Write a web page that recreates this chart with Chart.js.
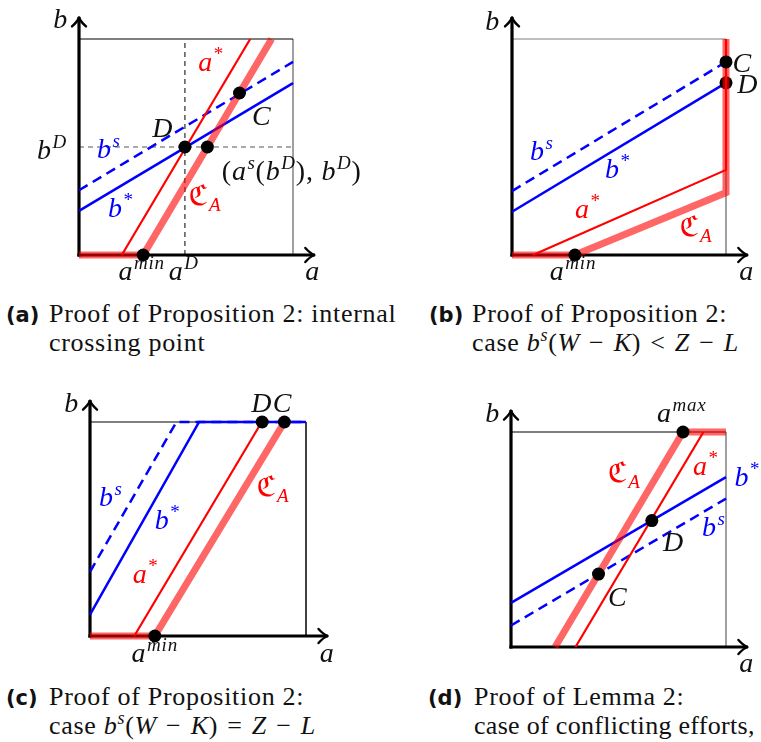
<!DOCTYPE html>
<html>
<head>
<meta charset="utf-8">
<script src="https://cdn.jsdelivr.net/npm/chart.js@4/dist/chart.umd.min.js"></script>
<style>
  html, body { margin:0; padding:0; background:#fff; }
  #wrap { position:relative; width:761px; height:742px; overflow:hidden; }
  canvas { position:absolute; }
  .cap { position:absolute; font-family:"Liberation Serif", serif; font-size:26px; line-height:27px; letter-spacing:0.7px; color:#111; white-space:nowrap; }
  .lab { display:inline-block; font-family:"DejaVu Sans", sans-serif; font-weight:bold; font-size:21px; letter-spacing:0; }
  .cap i { font-style:italic; }
  .cap sup { font-size:18px; vertical-align:10px; line-height:0; }
  .op { margin:0 2px; }
</style>
</head>
<body>
<div id="wrap">
  <canvas id="cA" width="380" height="295" style="left:0;top:0"></canvas>
  <canvas id="cB" width="381" height="295" style="left:380px;top:0"></canvas>
  <canvas id="cC" width="380" height="300" style="left:0;top:380px"></canvas>
  <canvas id="cD" width="381" height="300" style="left:380px;top:380px"></canvas>

  <div class="cap" style="left:6px;top:300px"><span class="lab" style="width:43px">(a)</span>Proof of Proposition 2: internal<br><span class="lab" style="width:43px"></span>crossing point</div>
  <div class="cap" style="left:429px;top:300px"><span class="lab" style="width:43px">(b)</span>Proof of Proposition 2:<br><span class="lab" style="width:43px"></span>case <i>b</i><sup><i>s</i></sup>(<i>W</i> <span class="op">−</span> <i>K</i>) <span class="op">&lt;</span> <i>Z</i> <span class="op">−</span> <i>L</i></div>
  <div class="cap" style="left:6px;top:683px"><span class="lab" style="width:43px">(c)</span>Proof of Proposition 2:<br><span class="lab" style="width:43px"></span>case <i>b</i><sup><i>s</i></sup>(<i>W</i> <span class="op">−</span> <i>K</i>) <span class="op">=</span> <i>Z</i> <span class="op">−</span> <i>L</i></div>
  <div class="cap" style="left:428px;top:683px"><span class="lab" style="width:46px">(d)</span>Proof of Lemma 2:<br><span class="lab" style="width:46px"></span><span style="letter-spacing:0.3px">case of conflicting efforts,</span></div>
</div>
<script>
// ---------------- DATA (unit box = [0,1] x [0,1]) ----------------
// Panel (a): internal crossing point
const aStar_A = [{x:0.20,y:0},{x:0.80,y:1}];
const calA_A  = [{x:0,y:0},{x:0.30,y:0},{x:0.90,y:1}];
const bStar_A = [{x:0,y:0.204},{x:1,y:0.796}];
const bS_A    = [{x:0,y:0.300},{x:1,y:0.894}];
const guideV_A = [{x:0.495,y:0},{x:0.495,y:1}];
const guideH_A = [{x:0,y:0.5},{x:1,y:0.5}];
const pts_A   = [{x:0.30,y:0},{x:0.495,y:0.5},{x:0.60,y:0.5},{x:0.75,y:0.75}];

// Panel (b): case b^s(W-K) < Z-L
const aStar_B = [{x:0.098,y:0},{x:1,y:0.394},{x:1,y:1}];
const calA_B  = [{x:0,y:0},{x:0.294,y:0},{x:1,y:0.289},{x:1,y:1}];
const bStar_B = [{x:0,y:0.200},{x:1,y:0.797}];
const bS_B    = [{x:0,y:0.296},{x:1,y:0.894}];
const pts_B   = [{x:0.294,y:0},{x:1,y:0.894}];
const ptsUnder_B = [{x:1,y:0.797}];

// Panel (c): case b^s(W-K) = Z-L
const aStar_C = [{x:0.205,y:0},{x:0.795,y:1}];
const calA_C  = [{x:0,y:0},{x:0.30,y:0},{x:0.90,y:1}];
const bStar_C = [{x:0,y:0.10},{x:0.505,y:1},{x:1,y:1}];
const bS_C    = [{x:0,y:0.30},{x:0.40,y:1},{x:1,y:1}];
const pts_C   = [{x:0.30,y:0},{x:0.797,y:1},{x:0.90,y:1}];

// Panel (d): Lemma 2, conflicting efforts
const aStar_D = [{x:0.30,y:0},{x:0.895,y:1}];
const calA_D  = [{x:0.205,y:0},{x:0.80,y:1},{x:1,y:1}];
const bStar_D = [{x:0,y:0.205},{x:1,y:0.79}];
const bS_D    = [{x:0,y:0.10},{x:1,y:0.69}];
const pts_D   = [{x:0.80,y:1},{x:0.655,y:0.588},{x:0.407,y:0.339}];

// Text labels (anchored at data coordinates: centre x, baseline y)
const labels_A = [
  {t:'a^*', x:0.617, y:0.852, c:'red'},
  {t:'C', x:0.855, y:0.602, c:'#111'},
  {t:'D', x:0.393, y:0.546, c:'#111'},
  {t:'b^D', x:-0.126, y:0.444, c:'#111'},
  {t:'b^s', x:0.14, y:0.449, c:'blue'},
  {t:'(a^s(b^D), b^D)', x:0.994, y:0.347, c:'#111'},
  {t:'b^*', x:0.196, y:0.176, c:'blue'},
  {t:'ℭ_A', x:0.589, y:0.231, c:'red'},
  {t:'a^{min}', x:0.293, y:-0.116, c:'#111'},
  {t:'a^D', x:0.49, y:-0.116, c:'#111'},
  {t:'a', x:1.093, y:-0.116, c:'#111'},
  {t:'b', x:-0.084, y:1.051, c:'#111'}
];
const labels_B = [
  {t:'b', x:-0.089, y:1.042, c:'#111'},
  {t:'C', x:1.077, y:0.847, c:'#111'},
  {t:'D', x:1.103, y:0.750, c:'#111'},
  {t:'b^s', x:0.14, y:0.44, c:'blue'},
  {t:'b^*', x:0.495, y:0.356, c:'blue'},
  {t:'a^*', x:0.355, y:0.171, c:'red'},
  {t:'ℭ_A', x:0.86, y:0.088, c:'red'},
  {t:'a^{min}', x:0.285, y:-0.116, c:'#111'},
  {t:'a', x:1.098, y:-0.116, c:'#111'}
];
const labels_C = [
  {t:'b', x:-0.083, y:1.048, c:'#111'},
  {t:'D', x:0.797, y:1.048, c:'#111'},
  {t:'C', x:0.893, y:1.048, c:'#111'},
  {t:'b^s', x:0.096, y:0.607, c:'blue'},
  {t:'b^*', x:0.359, y:0.50, c:'blue'},
  {t:'a^*', x:0.258, y:0.248, c:'red'},
  {t:'ℭ_A', x:0.847, y:0.654, c:'red'},
  {t:'a^{min}', x:0.30, y:-0.12, c:'#111'},
  {t:'a', x:1.10, y:-0.12, c:'#111'}
];
const labels_D = [
  {t:'b', x:-0.084, y:1.048, c:'#111'},
  {t:'a^{max}', x:0.794, y:1.048, c:'#111'},
  {t:'ℭ_A', x:0.526, y:0.769, c:'red'},
  {t:'a^*', x:0.907, y:0.80, c:'red'},
  {t:'b^*', x:1.10, y:0.749, c:'blue'},
  {t:'b^s', x:0.944, y:0.516, c:'blue'},
  {t:'D', x:0.758, y:0.448, c:'#111'},
  {t:'C', x:0.498, y:0.19, c:'#111'},
  {t:'a', x:1.098, y:-0.115, c:'#111'}
];

const AX_END = 1.095;

// ---------------- STYLES ----------------
const RED = '#ff0000', THICK = 'rgba(255,0,0,0.6)', BLUE = '#0000ff';

function line(data, color, width, order, extra) {
  return Object.assign({data, showLine:true, borderColor:color, borderWidth:width, pointRadius:0,
    pointHoverRadius:0, fill:false, tension:0, order, clip:false}, extra || {});
}
function dots(data, order) {
  return {data, showLine:false, pointRadius:6.5, pointHoverRadius:6.5, pointBackgroundColor:'#000',
    pointBorderWidth:0, borderColor:'#000', order, clip:false};
}
function frame(topColor, rightColor) {
  return [
    line([{x:0,y:1},{x:1,y:1}], topColor, 1.2, 9),
    line([{x:1,y:0},{x:1,y:1}], rightColor, 1.5, 9),
    line([{x:0,y:0},{x:AX_END,y:0}], '#000', 3.2, 7, {borderCapStyle:'square'}),
    line([{x:0,y:0},{x:0,y:AX_END}], '#000', 3.2, 7, {borderCapStyle:'square'})
  ];
}

// ---------------- math-ish text drawing ----------------
function parseMath(s) {
  const out = []; let i = 0;
  while (i < s.length) {
    const ch = s[i];
    if (ch === '^' || ch === '_') {
      i++; let grp;
      if (s[i] === '{') { const j = s.indexOf('}', i); grp = s.slice(i+1, j); i = j+1; }
      else { grp = s[i]; i++; }
      for (const c of grp) out.push({c, lvl: ch === '^' ? 1 : -1});
    } else { out.push({c:ch, lvl:0}); i++; }
  }
  return out;
}
function fontFor(c, size) {
  if (c === 'ℭ') return size + 'px "DejaVu Serif", "DejaVu Sans", serif';
  if (/[A-Za-z]/.test(c)) return 'italic ' + size + 'px "Liberation Serif", serif';
  return size + 'px "Liberation Serif", serif';
}
function drawMath(ctx, cx, by, str, color) {
  const S = 28, s = 19;
  const toks = parseMath(str);
  let total = 0;
  for (const t of toks) {
    const size = t.lvl === 0 ? S : s;
    ctx.font = fontFor(t.c, size);
    t.w = ctx.measureText(t.c).width + (t.lvl === 0 && /[A-Za-z]/.test(t.c) ? 1.5 : 0.8);
    t.size = size;
    total += t.w;
  }
  let x = cx - total / 2;
  ctx.fillStyle = color;
  ctx.textBaseline = 'alphabetic';
  ctx.textAlign = 'left';
  for (const t of toks) {
    ctx.font = fontFor(t.c, t.size);
    const dy = t.lvl === 1 ? -11 : (t.lvl === -1 ? 6 : 0);
    ctx.fillText(t.c, x, by + dy);
    x += t.w;
  }
}

const decorPlugin = {
  id: 'decor',
  afterDatasetsDraw(chart) {
    const ctx = chart.ctx, xs = chart.scales.x, ys = chart.scales.y;
    ctx.save();
    ctx.strokeStyle = '#000'; ctx.lineWidth = 2.4; ctx.lineCap = 'round'; ctx.lineJoin = 'round';
    const ax = xs.getPixelForValue(AX_END), ay = ys.getPixelForValue(0);
    ctx.beginPath();
    ctx.moveTo(ax - 8, ay - 7); ctx.quadraticCurveTo(ax - 3, ay - 1.5, ax + 1, ay);
    ctx.quadraticCurveTo(ax - 3, ay + 1.5, ax - 8, ay + 7);
    ctx.stroke();
    const bx = xs.getPixelForValue(0), by = ys.getPixelForValue(AX_END);
    ctx.beginPath();
    ctx.moveTo(bx - 7, by + 8); ctx.quadraticCurveTo(bx - 1.5, by + 3, bx, by - 1);
    ctx.quadraticCurveTo(bx + 1.5, by + 3, bx + 7, by + 8);
    ctx.stroke();
    ctx.restore();
  },
  afterDraw(chart) {
    const ctx = chart.ctx, xs = chart.scales.x, ys = chart.scales.y;
    const labs = chart.options.plugins.decor.labels || [];
    ctx.save();
    for (const l of labs) drawMath(ctx, xs.getPixelForValue(l.x), ys.getPixelForValue(l.y), l.t, l.c);
    ctx.restore();
  }
};

function scalesFor(g) {
  const kx = g.right - g.left, ky = g.bottom - g.top;
  return {
    x: {type:'linear', display:false, bounds:'data', min:-g.left/kx, max:(g.w - g.left)/kx},
    y: {type:'linear', display:false, bounds:'data', min:-(g.h - g.bottom)/ky, max:g.bottom/ky}
  };
}

function makePanel(id, geom, datasets, labels) {
  new Chart(document.getElementById(id), {
    type: 'scatter',
    data: {datasets},
    options: {
      responsive:false, animation:false, devicePixelRatio:1, events:[],
      layout:{padding:0, autoPadding:false},
      scales: scalesFor(geom),
      plugins: {legend:{display:false}, tooltip:{enabled:false}, decor:{labels}}
    },
    plugins: [decorPlugin]
  });
}

makePanel('cA', {left:79, right:293, top:39, bottom:255, w:380, h:295}, [
  ...frame('#000', '#808080'),
  line(guideV_A, '#000', 1, 8, {borderDash:[5,4]}),
  line(guideH_A, '#555', 1, 8, {borderDash:[5,4]}),
  line(bS_A, BLUE, 2.5, 6, {borderDash:[10,6]}),
  line(bStar_A, BLUE, 2.5, 6),
  line(aStar_A, RED, 2.2, 5),
  line(calA_A, THICK, 7, 4),
  dots(pts_A, 1)
], labels_A);

makePanel('cB', {left:132, right:346, top:39, bottom:255, w:381, h:295}, [
  ...frame('#808080', '#808080'),
  line(bS_B, BLUE, 2.5, 6, {borderDash:[10,6]}),
  line(bStar_B, BLUE, 2.5, 6),
  line(aStar_B, RED, 2.2, 5),
  dots(ptsUnder_B, 5),
  line(calA_B, THICK, 7, 4),
  dots(pts_B, 1)
], labels_B);

makePanel('cC', {left:90, right:306, top:42, bottom:256, w:380, h:300}, [
  ...frame('#000', '#000'),
  line(bS_C, BLUE, 2.5, 6, {borderDash:[10,6]}),
  line(bStar_C, BLUE, 2.5, 6),
  line(aStar_C, RED, 2.2, 5),
  line(calA_C, THICK, 7, 4),
  dots(pts_C, 1)
], labels_C);

makePanel('cD', {left:131, right:346, top:52, bottom:267, w:381, h:300}, [
  ...frame('#000', '#808080'),
  line(bS_D, BLUE, 2.5, 6, {borderDash:[10,6]}),
  line(bStar_D, BLUE, 2.5, 6),
  line(aStar_D, RED, 2.2, 5),
  line(calA_D, THICK, 7, 4),
  dots(pts_D, 1)
], labels_D);
</script>
</body>
</html>
